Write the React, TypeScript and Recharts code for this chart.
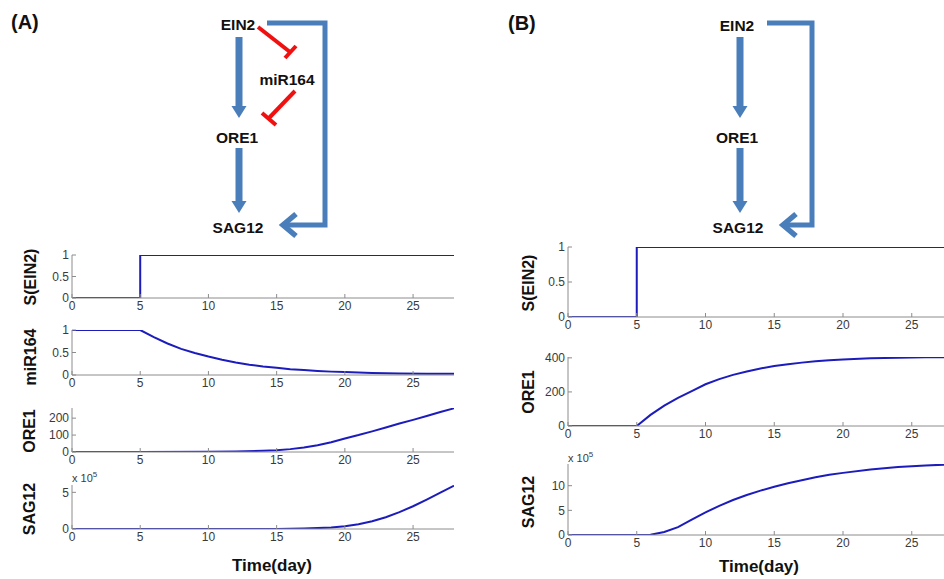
import React from 'react';
import { LineChart, Line, XAxis, YAxis } from 'recharts';

// ---------- data ----------
const timeTicks = [0, 5, 10, 15, 20, 25];

const stepTime = [0, 5, 5, 28];
const stepValue = [0, 0, 1, 1];

const mirTime = [0, 5, 6, 7, 8, 9, 10, 11, 12, 13, 14, 15, 16, 17, 18, 19, 20, 22, 24, 26, 28];
const mirValue = [1, 1, 0.84, 0.7, 0.58, 0.49, 0.41, 0.34, 0.28, 0.23, 0.19, 0.16, 0.13, 0.11, 0.09, 0.075, 0.065, 0.045, 0.035, 0.03, 0.025];

const oreATime = [0, 5, 10, 12, 14, 15, 16, 17, 18, 19, 20, 21, 22, 23, 24, 25, 26, 27, 28];
const oreAValue = [0, 0, 1, 3, 7, 10, 17, 26, 40, 58, 80, 100, 122, 145, 168, 190, 213, 236, 258];

const sagATime = [0, 5, 10, 15, 16, 17, 18, 19, 20, 21, 22, 23, 24, 25, 26, 27, 28];
const sagAValue = [0, 0, 0, 0.01, 0.03, 0.06, 0.12, 0.22, 0.38, 0.65, 1.05, 1.6, 2.3, 3.1, 4.0, 4.95, 5.9];

const oreBTime = [0, 5, 6, 7, 8, 9, 10, 11, 12, 13, 14, 15, 16, 17, 18, 19, 20, 22, 24, 26, 28];
const oreBValue = [0, 0, 65, 120, 165, 205, 245, 275, 300, 320, 338, 352, 362, 372, 380, 386, 391, 397, 401, 403, 404];

const sagBTime = [0, 5, 6, 7, 8, 9, 10, 11, 12, 13, 14, 15, 16, 17, 18, 19, 20, 22, 24, 26, 28];
const sagBValue = [0, 0, 0.05, 0.6, 1.6, 3.1, 4.6, 5.9, 7.1, 8.1, 9.0, 9.8, 10.5, 11.1, 11.7, 12.2, 12.6, 13.3, 13.8, 14.1, 14.35];

const ticksUnit = [0, 0.5, 1];
const ticksOreA = [0, 100, 200];
const ticksSagA = [0, 5];
const ticksOreB = [0, 200, 400];
const ticksSagB = [0, 5, 10];

// ---------- styles ----------
const FONT = 'Arial, "Liberation Sans", sans-serif';
const AXIS = '#8c8c8c';
const TICK_TXT = '#3a3a3a';
const CURVE = '#1c1cbc';
const ARROW = '#4a7ebb';
const RED = '#f01010';

const AX_L = 44;
const PAD_T = 6;
const PAD_R = 6;
const AX_B = 24;

type PlotProps = {
  left: number;
  top: number;
  plotW: number;
  plotH: number;
  times: number[];
  values: number[];
  yDomain: [number, number];
  yTicks: number[];
};

function MiniPlot(p: PlotProps) {
  const data = p.times.map((t, i) => ({ t, v: p.values[i] }));
  const tickStyle = { fill: TICK_TXT, fontSize: 12, fontFamily: FONT };
  return (
    <div style={{ position: 'absolute', left: p.left - AX_L, top: p.top - PAD_T }}>
      <LineChart
        width={AX_L + p.plotW + PAD_R}
        height={PAD_T + p.plotH + AX_B}
        data={data}
        margin={{ top: PAD_T, right: PAD_R, bottom: 0, left: 0 }}
      >
        <XAxis
          xAxisId="b"
          dataKey="t"
          type="number"
          domain={[0, 28]}
          ticks={timeTicks}
          interval={0}
          orientation="bottom"
          height={AX_B}
          tickSize={-4}
          tickMargin={7}
          stroke={AXIS}
          tick={tickStyle}
          allowDataOverflow
        />
        <XAxis
          xAxisId="t"
          dataKey="t"
          type="number"
          domain={[0, 28]}
          ticks={timeTicks}
          interval={0}
          orientation="top"
          height={0}
          tickSize={-4}
          stroke={AXIS}
          tick={false}
          allowDataOverflow
        />
        <YAxis
          yAxisId="l"
          type="number"
          domain={p.yDomain}
          ticks={p.yTicks}
          interval={0}
          orientation="left"
          width={AX_L}
          tickSize={-4}
          tickMargin={7}
          stroke={AXIS}
          tick={tickStyle}
          allowDataOverflow
        />
        <YAxis
          yAxisId="r"
          type="number"
          domain={p.yDomain}
          ticks={p.yTicks}
          interval={0}
          orientation="right"
          width={0}
          tickSize={-4}
          stroke={AXIS}
          tick={false}
          allowDataOverflow
        />
        <Line
          xAxisId="b"
          yAxisId="l"
          dataKey="v"
          type="linear"
          stroke={CURVE}
          strokeWidth={2}
          dot={false}
          isAnimationActive={false}
        />
      </LineChart>
    </div>
  );
}

function DownArrow({ x, y1, y2 }: { x: number; y1: number; y2: number }) {
  return (
    <g fill={ARROW}>
      <rect x={x - 3.5} y={y1} width={7} height={y2 - y1 - 10} />
      <polygon points={`${x - 7.5},${y2 - 12} ${x + 7.5},${y2 - 12} ${x},${y2}`} />
    </g>
  );
}

function Feedback({ x1, xr, tip }: { x1: number; xr: number; tip: number }) {
  return (
    <g fill="none" stroke={ARROW} strokeLinejoin="miter">
      <polyline points={`${x1},23 ${xr},23 ${xr},225 ${tip + 3},225`} strokeWidth={5} />
      <polyline points={`${tip + 14},214 ${tip + 1},225 ${tip + 14},236`} strokeWidth={5.5} />
    </g>
  );
}

function YLabel({ cx, cy, text }: { cx: number; cy: number; text: string }) {
  return (
    <text
      x={cx + 6}
      y={cy}
      transform={`rotate(-90, ${cx + 6}, ${cy})`}
      textAnchor="middle"
      fontFamily={FONT}
      fontWeight="bold"
      fontSize={16}
      fill="#111"
    >
      {text}
    </text>
  );
}

function Node({ x, y, text }: { x: number; y: number; text: string }) {
  return (
    <text x={x} y={y} textAnchor="middle" fontFamily={FONT} fontWeight="bold" fontSize={15.5} fill="#111">
      {text}
    </text>
  );
}

export default function App() {
  return (
    <div
      style={{
        position: 'fixed',
        left: 0,
        top: 0,
        width: 944,
        height: 579,
        overflow: 'hidden',
        background: '#fff',
      }}
    >
      {/* Panel A plots */}
      <MiniPlot left={72} top={255} plotW={382} plotH={43} times={stepTime} values={stepValue} yDomain={[0, 1]} yTicks={ticksUnit} />
      <MiniPlot left={72} top={330} plotW={382} plotH={45} times={mirTime} values={mirValue} yDomain={[0, 1]} yTicks={ticksUnit} />
      <MiniPlot left={72} top={408} plotW={382} plotH={44} times={oreATime} values={oreAValue} yDomain={[0, 260]} yTicks={ticksOreA} />
      <MiniPlot left={72} top={485} plotW={382} plotH={44} times={sagATime} values={sagAValue} yDomain={[0, 6]} yTicks={ticksSagA} />

      {/* Panel B plots */}
      <MiniPlot left={568} top={247} plotW={385} plotH={70} times={stepTime} values={stepValue} yDomain={[0, 1]} yTicks={ticksUnit} />
      <MiniPlot left={568} top={357} plotW={385} plotH={69} times={oreBTime} values={oreBValue} yDomain={[0, 405]} yTicks={ticksOreB} />
      <MiniPlot left={568} top={464} plotW={385} plotH={71} times={sagBTime} values={sagBValue} yDomain={[0, 14.4]} yTicks={ticksSagB} />

      <svg
        width={944}
        height={579}
        style={{ position: 'absolute', left: 0, top: 0, pointerEvents: 'none' }}
      >
        {/* panel letters */}
        <text x={11} y={29} fontFamily={FONT} fontWeight="bold" fontSize={20} fill="#111">(A)</text>
        <text x={508} y={30} fontFamily={FONT} fontWeight="bold" fontSize={20} fill="#111">(B)</text>

        {/* Diagram A */}
        <Node x={238} y={30} text="EIN2" />
        <Node x={287} y={85} text="miR164" />
        <Node x={237} y={143} text="ORE1" />
        <Node x={238} y={233} text="SAG12" />
        <DownArrow x={239} y1={37} y2={118} />
        <DownArrow x={239} y1={148} y2={213} />
        <Feedback x1={267} xr={325} tip={282} />
        <g stroke={RED} strokeWidth={4} fill="none">
          <line x1={258} y1={27} x2={290} y2={52} />
          <line x1={285} y1={58} x2={296} y2={46} />
          <line x1={295} y1={91} x2={269} y2={118} />
          <line x1={262} y1={113} x2={276} y2={125} />
        </g>

        {/* Diagram B */}
        <Node x={737} y={31} text="EIN2" />
        <Node x={737} y={143} text="ORE1" />
        <Node x={738} y={233} text="SAG12" />
        <DownArrow x={740} y1={37} y2={118} />
        <DownArrow x={740} y1={148} y2={213} />
        <Feedback x1={767} xr={812} tip={782} />

        {/* y labels */}
        <YLabel cx={30} cy={277} text="S(EIN2)" />
        <YLabel cx={30} cy={357} text="miR164" />
        <YLabel cx={29} cy={431} text="ORE1" />
        <YLabel cx={29} cy={509} text="SAG12" />
        <YLabel cx={528} cy={283} text="S(EIN2)" />
        <YLabel cx={528} cy={392} text="ORE1" />
        <YLabel cx={528} cy={502} text="SAG12" />

        {/* exponent labels */}
        <text x={72} y={482} fontFamily={FONT} fontSize={11} fill={TICK_TXT}>
          x 10<tspan dy={-5} fontSize={8}>5</tspan>
        </text>
        <text x={568} y={462} fontFamily={FONT} fontSize={11} fill={TICK_TXT}>
          x 10<tspan dy={-5} fontSize={8}>5</tspan>
        </text>

        {/* x labels */}
        <text x={272} y={571} textAnchor="middle" fontFamily={FONT} fontWeight="bold" fontSize={17} fill="#111">Time(day)</text>
        <text x={759} y={572} textAnchor="middle" fontFamily={FONT} fontWeight="bold" fontSize={17} fill="#111">Time(day)</text>
      </svg>
    </div>
  );
}
